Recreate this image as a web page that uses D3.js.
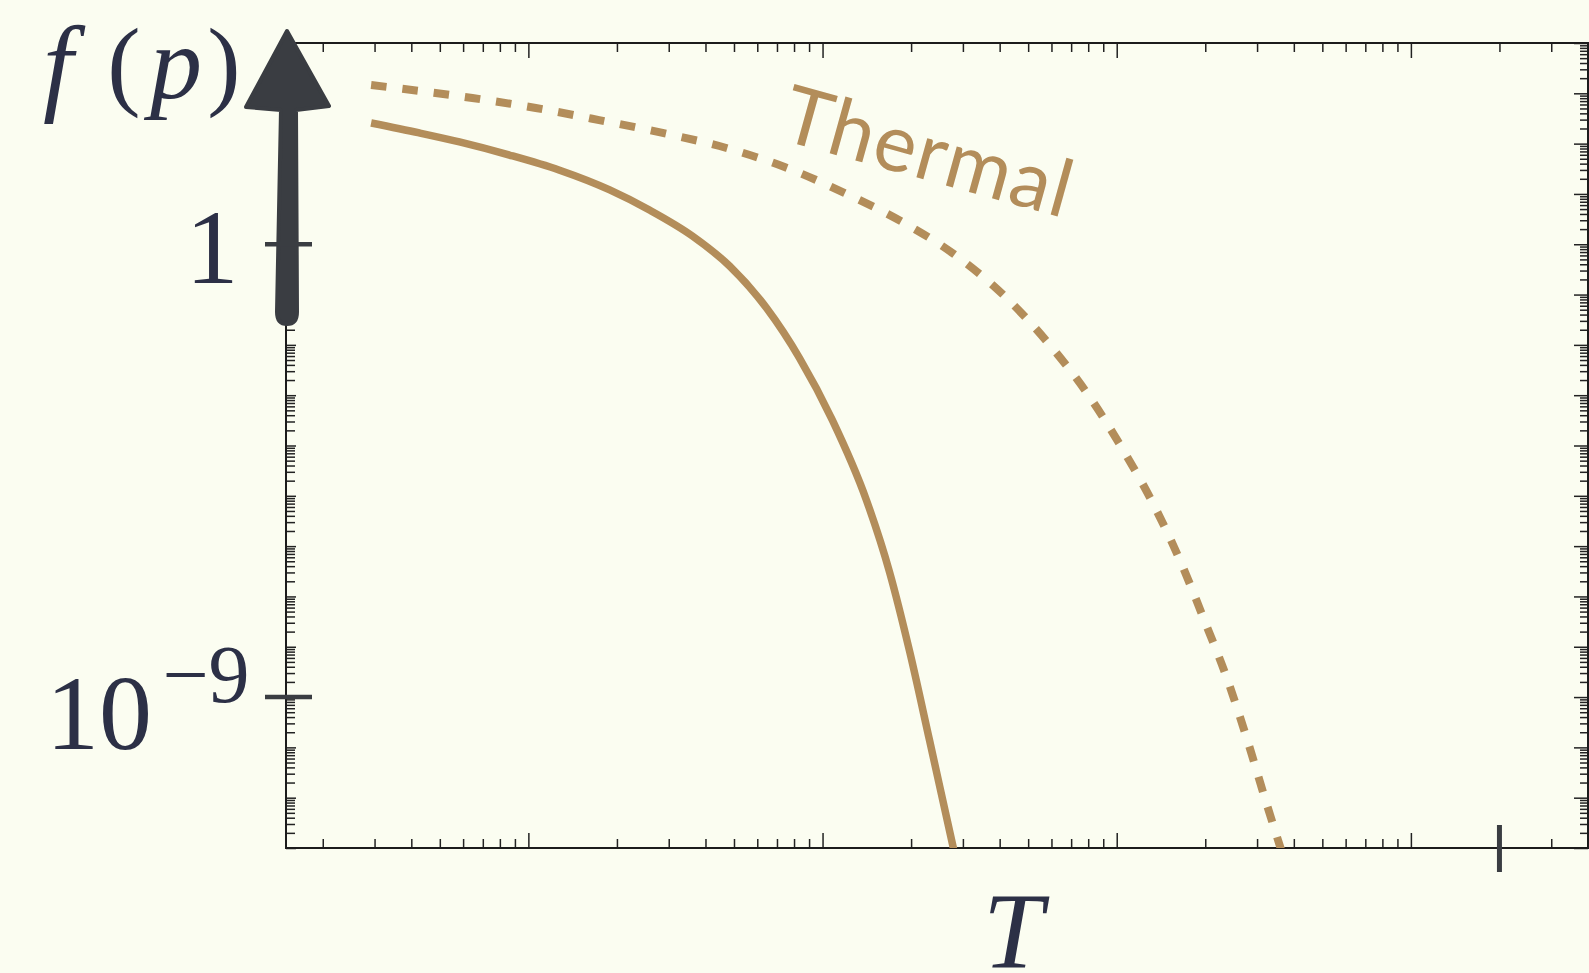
<!DOCTYPE html>
<html>
<head>
<meta charset="utf-8">
<script src="https://cdn.jsdelivr.net/npm/d3@7/dist/d3.min.js"></script>
<style>
  html, body { margin: 0; padding: 0; background: #fbfdf1; }
  svg { display: block; }
</style>
</head>
<body>
<svg id="chart" width="1589" height="973"></svg>
<script>
// Momentum distribution f(p) of a cooled sample (solid) and the thermal one (dashed)
const coldP = [2.92, 4.26, 5.83, 8.62, 12.7, 18.9, 25.8, 36.1, 48.3, 64.5, 83.5, 108, 141, 169, 198, 231, 277, 292];
const coldF = [257, 163, 108, 59.3, 29.9, 12.0, 4.79, 1.46, 0.369, 0.054, 5.47e-3, 3.2e-4, 8.2e-6, 3.04e-7, 7.8e-9, 1.39e-10, 1.14e-12, 2.9e-13];

const thermalP = [2.92, 6.45, 10.6, 17.4, 28.6, 47.1, 74.3, 119, 187, 286, 416, 592, 797, 1047, 1336, 1651, 1992, 2387, 2790, 3236, 3670];
const thermalF = [1460, 807, 511, 294, 163, 81.8, 34.3, 10.4, 2.76, 0.58, 0.093, 0.010, 1.05e-3, 8.5e-5, 6.6e-6, 4.8e-7, 3.2e-8, 2.1e-9, 1.3e-10, 7.4e-12, 7.2e-13];

// Axis extents and annotated ticks
const xDomain = [1.5, 40000];
const yDomain = [1e-12, 1e4];
const yLabelValues = [1, 1e-9];
const yLabelBase = ["1", "10"];
const yLabelExp = ["", "\u22129"];
const tMarkValue = 20000;
const xTitle = "T";
const curveLabel = "Thermal";

(function draw() {
  const ink = "#2c3046";
  const tickInk = "#3a3d42";
  const tan = "#b38d5a";

  const svg = d3.select("#chart");
  const W = 1589, H = 973;
  const pL = 286, pR = 1588, pT = 43, pB = 848;

  svg.append("rect").attr("width", W).attr("height", H).attr("fill", "#fbfdf1");

  const x = d3.scaleLog().domain(xDomain).range([pL, pR]);
  const y = d3.scaleLog().domain(yDomain).range([pB, pT]);

  const isMajor = v => Math.abs(Math.log10(v) - Math.round(Math.log10(v))) < 1e-9;

  // full 1..9 subdivisions of every decade inside a domain
  function decadeTicks(domain) {
    const lo = Math.floor(Math.log10(domain[0]));
    const hi = Math.ceil(Math.log10(domain[1]));
    const out = [];
    for (let n = lo; n <= hi; n++) {
      for (let k = 1; k <= 9; k++) {
        const v = k * Math.pow(10, n);
        if (v >= domain[0] * 0.9999 && v <= domain[1] * 1.0001) out.push(v);
      }
    }
    return out;
  }
  const xt = decadeTicks(xDomain);
  const yt = decadeTicks(yDomain);

  function tickAxis(axisFn, scale, values, size, transform) {
    const g = svg.append("g").attr("transform", transform)
      .call(axisFn(scale).tickValues(values).tickSize(size).tickSizeOuter(0).tickFormat(""));
    g.select(".domain").remove();
    g.selectAll("text").remove();
    g.selectAll("line").attr("stroke", "#222").attr("stroke-width", 1.5);
    return g;
  }

  // inward-pointing ticks on all four sides
  tickAxis(d3.axisBottom, x, xt.filter(v => !isMajor(v)), -9, `translate(0,${pB})`);
  tickAxis(d3.axisBottom, x, xt.filter(isMajor), -15, `translate(0,${pB})`);
  tickAxis(d3.axisTop, x, xt.filter(v => !isMajor(v)), -9, `translate(0,${pT})`);
  tickAxis(d3.axisTop, x, xt.filter(isMajor), -15, `translate(0,${pT})`);
  tickAxis(d3.axisRight, y, yt.filter(v => !isMajor(v)), -8, `translate(${pR},0)`);
  tickAxis(d3.axisRight, y, yt.filter(isMajor), -14, `translate(${pR},0)`);
  tickAxis(d3.axisLeft, y, yt.filter(v => !isMajor(v)), -9, `translate(${pL},0)`);
  tickAxis(d3.axisLeft, y, yt.filter(isMajor), -10, `translate(${pL},0)`);

  // frame
  svg.append("rect")
    .attr("x", pL).attr("y", pT)
    .attr("width", pR - pL).attr("height", pB - pT)
    .attr("fill", "none").attr("stroke", "#1c1c1c").attr("stroke-width", 2);

  // curves
  svg.append("clipPath").attr("id", "plotClip")
    .append("rect").attr("x", pL).attr("y", pT).attr("width", pR - pL).attr("height", pB - pT);

  const line = d3.line()
    .x(d => x(d[0]))
    .y(d => y(d[1]))
    .curve(d3.curveMonotoneX);

  const plot = svg.append("g").attr("clip-path", "url(#plotClip)");

  plot.append("path")
    .datum(thermalP.map((p, i) => [p, thermalF[i]]))
    .attr("d", line)
    .attr("fill", "none")
    .attr("stroke", tan)
    .attr("stroke-width", 8)
    .attr("stroke-dasharray", "15.5 16");

  plot.append("path")
    .datum(coldP.map((p, i) => [p, coldF[i]]))
    .attr("d", line)
    .attr("fill", "none")
    .attr("stroke", tan)
    .attr("stroke-width", 7.5);

  // curve label, tilted along the thermal curve
  svg.append("text")
    .attr("transform", "translate(778,139) rotate(15.5)")
    .attr("font-family", "Lato, 'Open Sans', sans-serif")
    .attr("font-size", 80)
    .attr("letter-spacing", 1.5)
    .attr("fill", tan)
    .text(curveLabel);

  // vertical axis drawn as a brush arrow
  const ax = pL;
  const arrowPath = [
    `M${ax + 1},31`,
    `L${ax + 43},106`,
    `L${ax + 10},110`,
    `L${ax + 11},312`,
    `Q${ax + 11},324 ${ax + 1},324`,
    `Q${ax - 9},324 ${ax - 9},312`,
    `L${ax - 5},110`,
    `L${ax - 40},107`,
    "Z"
  ].join(" ");
  svg.append("path")
    .attr("d", arrowPath)
    .attr("fill", tickInk)
    .attr("stroke", tickInk)
    .attr("stroke-width", 4)
    .attr("stroke-linejoin", "round");

  // annotated y ticks with labels
  yLabelValues.forEach(v => {
    const yy = y(v);
    svg.append("line")
      .attr("x1", pL - 21).attr("x2", pL + 26)
      .attr("y1", yy).attr("y2", yy)
      .attr("stroke", tickInk).attr("stroke-width", 4.5);
  });

  svg.append("text")
    .attr("x", 212).attr("y", 283)
    .attr("text-anchor", "middle")
    .attr("font-family", "'Liberation Serif', serif")
    .attr("font-size", 106)
    .attr("fill", ink)
    .text(yLabelBase[0]);

  svg.append("text")
    .attr("x", 99).attr("y", 749)
    .attr("text-anchor", "middle")
    .attr("font-family", "'Liberation Serif', serif")
    .attr("font-size", 106)
    .attr("fill", ink)
    .text(yLabelBase[1]);

  svg.append("text")
    .attr("x", 206).attr("y", 702)
    .attr("text-anchor", "middle")
    .attr("font-family", "'Liberation Serif', serif")
    .attr("font-size", 82)
    .attr("fill", ink)
    .text(yLabelExp[1]);

  // y-axis title f(p)
  const fpParts = [["f", 58, 108, 101], ["(", 124, 100, 97], ["p", 176, 104, 98], [")", 224, 100, 97]];
  fpParts.forEach(([s, cx, size, base]) => {
    svg.append("text")
      .attr("x", cx).attr("y", base)
      .attr("text-anchor", "middle")
      .attr("font-family", "'Liberation Serif', serif")
      .attr("font-style", s === "f" || s === "p" ? "italic" : "normal")
      .attr("font-size", size)
      .attr("fill", ink)
      .text(s);
  });

  // temperature marker on the momentum axis
  svg.append("line")
    .attr("x1", x(tMarkValue)).attr("x2", x(tMarkValue))
    .attr("y1", pB - 23).attr("y2", pB + 24)
    .attr("stroke", tickInk).attr("stroke-width", 5);

  svg.append("text")
    .attr("x", 1013).attr("y", 967)
    .attr("text-anchor", "middle")
    .attr("font-family", "'Liberation Serif', serif")
    .attr("font-style", "italic")
    .attr("font-size", 108)
    .attr("fill", ink)
    .text(xTitle);
})();
</script>
</body>
</html>
